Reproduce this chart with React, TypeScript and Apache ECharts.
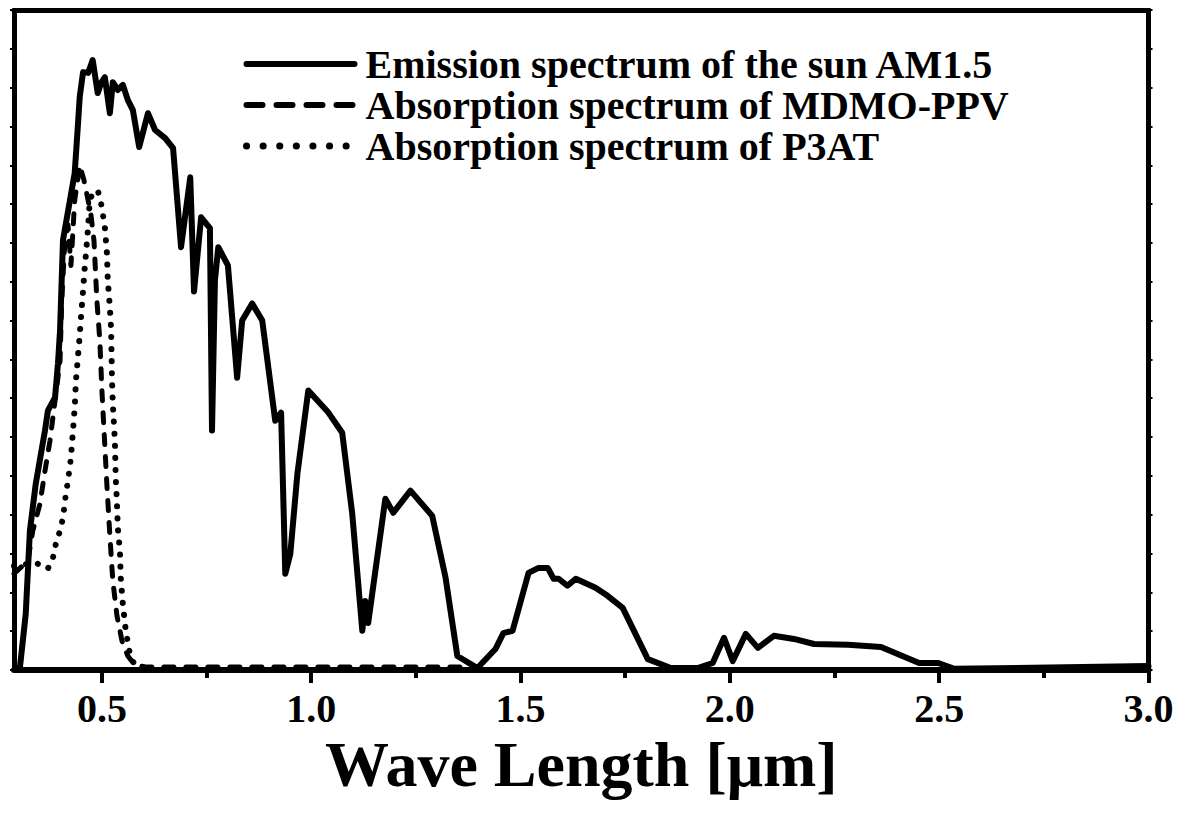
import React, { useEffect, useRef } from "react";
import * as echarts from "echarts";

const FONT = "'Liberation Serif', 'Times New Roman', serif";

const sunWavelength = [0.304, 0.318, 0.328, 0.342, 0.364, 0.371, 0.388, 0.395, 0.4, 0.407, 0.435, 0.443, 0.447, 0.455, 0.467, 0.478, 0.49, 0.498, 0.507, 0.519, 0.526, 0.538, 0.55, 0.562, 0.574, 0.589, 0.61, 0.627, 0.651, 0.67, 0.689, 0.711, 0.72, 0.737, 0.758, 0.763, 0.77, 0.778, 0.801, 0.823, 0.835, 0.859, 0.883, 0.914, 0.928, 0.938, 0.95, 0.967, 0.993, 1.041, 1.074, 1.098, 1.122, 1.129, 1.136, 1.177, 1.196, 1.237, 1.289, 1.321, 1.349, 1.397, 1.44, 1.459, 1.481, 1.519, 1.543, 1.565, 1.579, 1.591, 1.612, 1.632, 1.679, 1.708, 1.744, 1.804, 1.859, 1.923, 1.959, 1.986, 2.007, 2.038, 2.067, 2.105, 2.153, 2.201, 2.282, 2.361, 2.452, 2.498, 2.536, 3.0];
const sunIntensity = [0.005, 0.144, 0.359, 0.48, 0.617, 0.668, 0.702, 0.789, 0.875, 1.107, 1.28, 1.409, 1.476, 1.54, 1.538, 1.571, 1.486, 1.512, 1.527, 1.434, 1.514, 1.494, 1.507, 1.468, 1.442, 1.347, 1.434, 1.391, 1.37, 1.344, 1.089, 1.269, 0.975, 1.166, 1.138, 0.617, 1.004, 1.089, 1.042, 0.753, 0.9, 0.944, 0.9, 0.642, 0.663, 0.248, 0.299, 0.506, 0.72, 0.663, 0.611, 0.402, 0.101, 0.178, 0.121, 0.441, 0.405, 0.462, 0.397, 0.237, 0.036, 0.005, 0.054, 0.095, 0.101, 0.25, 0.263, 0.263, 0.235, 0.235, 0.217, 0.235, 0.212, 0.191, 0.16, 0.028, 0.005, 0.005, 0.018, 0.083, 0.023, 0.093, 0.057, 0.088, 0.08, 0.067, 0.065, 0.059, 0.018, 0.018, 0.003, 0.01];

const mdmoWavelength = [0.29, 0.323, 0.335, 0.352, 0.364, 0.376, 0.388, 0.4, 0.404, 0.411, 0.419, 0.426, 0.435, 0.447, 0.457, 0.467, 0.474, 0.481, 0.488, 0.495, 0.5, 0.505, 0.512, 0.519, 0.526, 0.536, 0.548, 0.562, 0.579, 0.603, 1.356];
const mdmoAbsorbance = [0.248, 0.281, 0.359, 0.428, 0.513, 0.591, 0.694, 0.797, 0.952, 1.094, 1.146, 1.042, 1.21, 1.3, 1.262, 1.21, 1.171, 1.107, 0.952, 0.849, 0.72, 0.617, 0.475, 0.346, 0.23, 0.139, 0.075, 0.036, 0.013, 0.008, 0.008];

const p3atWavelength = [0.29, 0.342, 0.371, 0.383, 0.39, 0.4, 0.407, 0.414, 0.419, 0.426, 0.431, 0.435, 0.438, 0.443, 0.447, 0.45, 0.455, 0.459, 0.462, 0.467, 0.471, 0.478, 0.49, 0.498, 0.502, 0.507, 0.512, 0.514, 0.519, 0.522, 0.524, 0.526, 0.531, 0.533, 0.536, 0.538, 0.543, 0.545, 0.55, 0.557, 0.567, 0.579, 0.62];
const p3atAbsorbance = [0.268, 0.276, 0.261, 0.289, 0.325, 0.359, 0.392, 0.454, 0.488, 0.547, 0.617, 0.676, 0.746, 0.81, 0.862, 0.908, 0.978, 1.037, 1.073, 1.14, 1.21, 1.228, 1.236, 1.202, 1.176, 1.14, 1.073, 1.004, 0.934, 0.875, 0.751, 0.686, 0.591, 0.495, 0.428, 0.366, 0.307, 0.237, 0.17, 0.101, 0.041, 0.01, 0.005];

const majorTicks = [0.5, 1.0, 1.5, 2.0, 2.5, 3.0];
const minorTicks = [0.75, 1.25, 1.75, 2.25, 2.75];

const seriesNames = [
  "Emission spectrum of the sun AM1.5",
  "Absorption spectrum of MDMO-PPV",
  "Absorption spectrum of P3AT",
];

const zip = (xs: number[], ys: number[]) => xs.map((x, i) => [x, ys[i]]);

export default function App() {
  const ref = useRef<HTMLDivElement>(null);
  useEffect(() => {
    if (!ref.current) return;
    const chart = echarts.init(ref.current, undefined, { renderer: "svg" });
    const xMin = 0.29;
    const xMax = 3.0;
    chart.setOption({
      animation: false,
      backgroundColor: "#ffffff",
      grid: { left: 14, right: 34.5, top: 10, bottom: 145, containLabel: false },
      legend: {
        orient: "vertical",
        left: 238,
        top: 39,
        itemWidth: 108,
        itemHeight: 20,
        itemGap: 1,
        data: [
          { name: seriesNames[0], lineStyle: { width: 6 } },
          { name: seriesNames[1], lineStyle: { width: 6, type: [16, 14], cap: "round" } },
          { name: seriesNames[2], lineStyle: { width: 7, type: [0.1, 16.5], cap: "round" } },
        ],
        itemStyle: { opacity: 0 },
        lineStyle: { width: 6 },
        textStyle: {
          fontFamily: FONT,
          fontWeight: "bold",
          fontSize: 40,
          lineHeight: 40,
          color: "#000",
          padding: [0, 0, 0, 6],
        },
      },
      xAxis: [
        {
          type: "value",
          position: "bottom",
          min: xMin,
          max: xMax,
          splitLine: { show: false },
          axisLine: { show: true, onZero: false, lineStyle: { color: "#000", width: 6 } },
          axisTick: {
            show: true,
            inside: false,
            length: 13,
            customValues: majorTicks,
            lineStyle: { color: "#000", width: 4 },
          },
          axisLabel: {
            show: true,
            customValues: majorTicks,
            formatter: (v: number) => v.toFixed(1),
            fontFamily: FONT,
            fontWeight: "bold",
            fontSize: 40,
            color: "#000",
            margin: 18,
          },
          name: "Wave Length [\u03bcm]",
          nameLocation: "middle",
          nameGap: 58,
          nameTextStyle: {
            fontFamily: FONT,
            fontWeight: "bold",
            fontSize: 64,
            color: "#000",
          },
        },
        {
          type: "value",
          position: "bottom",
          min: xMin,
          max: xMax,
          splitLine: { show: false },
          axisLine: { show: false, onZero: false },
          axisTick: {
            show: true,
            length: 8,
            customValues: minorTicks,
            lineStyle: { color: "#000", width: 4 },
          },
          axisLabel: { show: false },
        },
        {
          type: "value",
          position: "top",
          min: xMin,
          max: xMax,
          splitLine: { show: false },
          axisLine: { show: true, onZero: false, lineStyle: { color: "#000", width: 5 } },
          axisTick: { show: false },
          axisLabel: { show: false },
        },
      ],
      yAxis: [
        {
          type: "value",
          position: "left",
          min: 0,
          max: 1.7,
          interval: 0.1,
          splitLine: { show: false },
          axisLine: { show: true, onZero: false, lineStyle: { color: "#000", width: 5 } },
          axisTick: { show: true, length: 4, lineStyle: { color: "#000", width: 2 } },
          axisLabel: { show: false },
        },
        {
          type: "value",
          position: "right",
          min: 0,
          max: 1.7,
          interval: 0.1,
          splitLine: { show: false },
          axisLine: { show: true, onZero: false, lineStyle: { color: "#000", width: 5 } },
          axisTick: { show: true, length: 4, lineStyle: { color: "#000", width: 2 } },
          axisLabel: { show: false },
        },
      ],
      series: [
        {
          name: seriesNames[0],
          type: "line",
          xAxisIndex: 0,
          yAxisIndex: 0,
          symbol: "none",
          data: zip(sunWavelength, sunIntensity),
          itemStyle: { color: "#000" },
          lineStyle: { color: "#000", width: 6, join: "round", cap: "round" },
          z: 3,
        },
        {
          name: seriesNames[1],
          type: "line",
          xAxisIndex: 0,
          yAxisIndex: 0,
          symbol: "none",
          data: zip(mdmoWavelength, mdmoAbsorbance),
          itemStyle: { color: "#000" },
          lineStyle: { color: "#000", width: 5, type: [10, 12], cap: "round", join: "round" },
          z: 2,
        },
        {
          name: seriesNames[2],
          type: "line",
          xAxisIndex: 0,
          yAxisIndex: 0,
          symbol: "none",
          data: zip(p3atWavelength, p3atAbsorbance),
          itemStyle: { color: "#000" },
          lineStyle: { color: "#000", width: 6, type: [0.1, 12], cap: "round", join: "round" },
          z: 2,
        },
      ],
    });
    return () => chart.dispose();
  }, []);
  return <div ref={ref} style={{ width: 1183, height: 815, margin: -8 }} />;
}
